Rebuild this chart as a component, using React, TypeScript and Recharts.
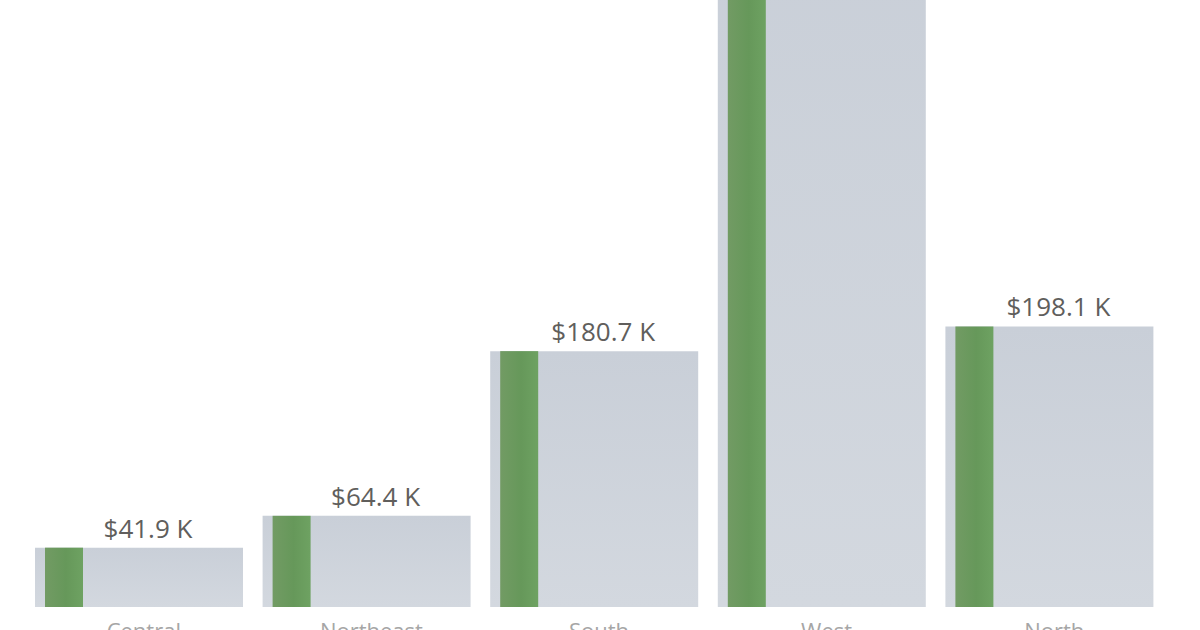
import React from 'react';
import { BarChart, Bar, XAxis, YAxis, LabelList } from 'recharts';

// values in thousands of dollars
const categories = ['Central', 'Northeast', 'South', 'West', 'North'];
const salesValues = [41.9, 64.4, 180.7, 472.3, 198.1];
const highlightValues = [41.9, 64.4, 180.7, 472.3, 198.1];

const chartData = categories.map((name, i) => ({
  name,
  sales: salesValues[i],
  highlight: highlightValues[i],
}));

const formatK = (v: number) => `$${v.toFixed(1)} K`;

// narrow green strip drawn inside the left part of each grey bar
const HighlightStrip = (props: any) => {
  const { x, y, width, height } = props;
  if (height == null || height <= 0) return null;
  const inset = width * (10 / 208);
  const w = width * (38 / 208);
  return <rect x={x + inset} y={y} width={w} height={height} fill="url(#greenFill)" />;
};

export default function App() {
  return (
    <div
      style={{
        position: 'fixed',
        left: 0,
        top: 0,
        width: 1200,
        height: 630,
        overflow: 'hidden',
        background: '#ffffff',
      }}
    >
      <div style={{ position: 'absolute', left: 0, top: -131 }}>
        <BarChart
          width={1200}
          height={788}
          data={chartData}
          margin={{ top: 30, right: 37, bottom: 10, left: 25 }}
          barCategoryGap={0}
          barGap={-208}
        >
          <defs>
            <linearGradient id="greyFill" x1="0" y1="0" x2="0" y2="1">
              <stop offset="0%" stopColor="#c9cfd8" />
              <stop offset="100%" stopColor="#d3d8df" />
            </linearGradient>
            <linearGradient id="greenFill" x1="0" y1="0" x2="1" y2="0">
              <stop offset="0%" stopColor="#729b64" />
              <stop offset="55%" stopColor="#66985a" />
              <stop offset="100%" stopColor="#6ea262" />
            </linearGradient>
          </defs>
          <XAxis
            dataKey="name"
            axisLine={false}
            tickLine={false}
            tickMargin={10}
            height={40}
            interval={0}
            tick={{ fill: '#a6a6a6', fontSize: 22, fontFamily: 'Open Sans', dx: 5 }}
          />
          <YAxis hide domain={[0, 500]} />
          <Bar
            dataKey="sales"
            barSize={208}
            fill="url(#greyFill)"
            isAnimationActive={false}
          >
            <LabelList
              dataKey="sales"
              position="top"
              offset={10}
              dx={9}
              formatter={(v: any) => formatK(Number(v))}
              fill="#605e5c"
              fontSize={26}
              fontFamily="Open Sans"
            />
          </Bar>
          <Bar
            dataKey="highlight"
            barSize={208}
            shape={HighlightStrip}
            isAnimationActive={false}
          />
        </BarChart>
      </div>
    </div>
  );
}
